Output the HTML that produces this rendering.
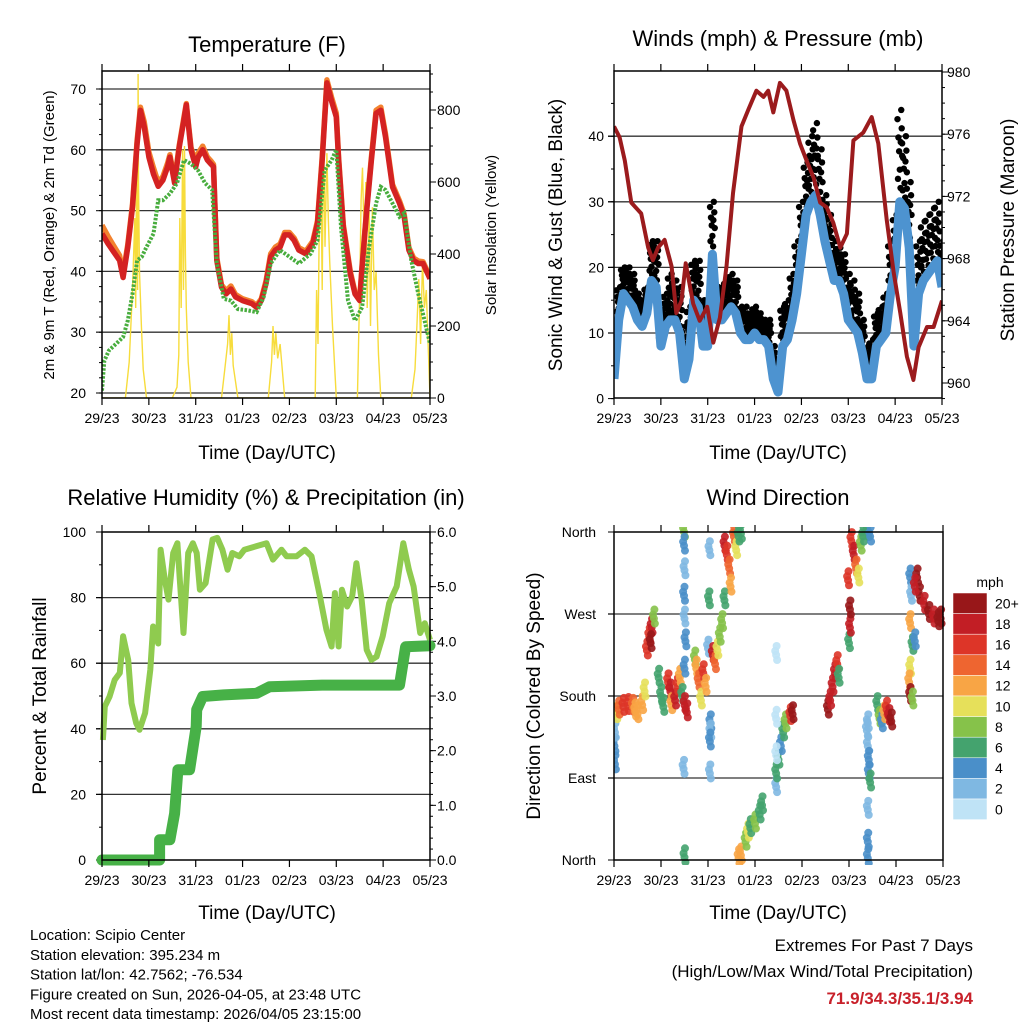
<!DOCTYPE html>
<html><head><meta charset="utf-8"><style>
body{margin:0;background:#fff}
svg text{font-family:"Liberation Sans",Arial,sans-serif;fill:#000}
</style></head><body>
<svg id="c" width="1024" height="1024" viewBox="0 0 1024 1024" xmlns="http://www.w3.org/2000/svg"></svg>
<script>
// ---- Temperature panel data (days since 29/23) ----
const tempDays=[0,0.125,0.25,0.375,0.45,0.55,0.65,0.75,0.82,0.9,1.0,1.1,1.2,1.3,1.4,1.45,1.55,1.65,1.75,1.8,1.9,2.0,2.05,2.15,2.25,2.32,2.38,2.45,2.55,2.65,2.75,2.85,3.0,3.2,3.3,3.4,3.5,3.6,3.7,3.8,3.9,4.0,4.1,4.2,4.35,4.5,4.6,4.7,4.8,4.9,5.0,5.05,5.15,5.3,5.4,5.5,5.55,5.65,5.75,5.85,5.95,6.05,6.2,6.35,6.45,6.55,6.65,6.75,6.85,7.0];
const temp2m=[46.2,44.6,43.2,41.8,39,44,50.6,61,66.5,63.8,58.8,56,54,55,57.2,58.8,54.5,60.5,65,67.4,60,57.2,58.8,60,58.3,57.7,57.2,41.8,37.4,36.3,37.1,35.8,35.2,34.7,34.1,35.2,38,42.4,43.5,44,46,46,45.1,43.5,42.9,44.6,47.9,58.3,71,68,65.4,58.3,47.3,39.6,36.3,35.2,40.7,50,58.3,66,66.5,62.1,53.9,51.2,49,43.5,41.8,41.3,41.3,38.8];
const temp9m=[47.6,45.8,44.2,42.6,39.6,44.4,51,61.5,67,64.6,59.6,57,54.6,55.6,57.8,59.2,55,60.8,65.4,67.6,60.4,57.8,59.4,60.6,58.8,58.2,57.6,42.2,37.8,36.8,37.6,36.2,35.5,35,34.4,35.5,38.4,42.9,44,44.5,46.4,46.4,45.5,43.9,43.3,45,48.3,58.8,71.5,68.6,66,58.8,47.7,40,36.6,35.4,41,50.4,58.8,66.5,67,62.6,54.3,51.6,49.4,43.9,42.2,41.7,41.6,39.1];
const dewDays=[0,0.05,0.15,0.3,0.45,0.55,0.65,0.75,0.85,0.95,1.1,1.2,1.3,1.45,1.6,1.75,1.9,2.05,2.2,2.35,2.45,2.6,2.75,2.9,3.1,3.3,3.45,3.6,3.8,4.0,4.2,4.45,4.6,4.75,4.9,5.0,5.1,5.25,5.4,5.55,5.7,5.85,5.95,6.05,6.2,6.35,6.45,6.6,6.75,6.85,7.0];
const dew2m=[20.4,25.3,27,28.1,29.2,31.9,36.3,41.8,42.4,44,46.2,51.7,51.7,52.8,54.5,58.3,57.7,56.6,54.5,53.4,41.3,35.5,35.2,33.8,33.6,33.3,35.8,41.3,43.5,42.4,41.3,42.9,45.1,56.6,58.3,60,47.3,35.2,31.9,34.1,44,51.2,53.9,53.4,51.2,49,49.6,41.8,36.3,33,28.1];
const solarDays=[0,0.5,0.58,0.65,0.7,0.72,0.74,0.76,0.77,0.78,0.8,0.84,0.88,0.95,1.5,1.6,1.64,1.66,1.69,1.72,1.74,1.76,1.78,1.8,1.84,1.9,2.55,2.62,2.68,2.71,2.74,2.77,2.8,2.9,3.55,3.62,3.65,3.68,3.71,3.75,3.8,3.9,4.55,4.58,4.61,4.64,4.67,4.7,4.73,4.76,4.8,4.83,4.86,4.92,5.0,5.45,5.5,5.53,5.56,5.6,5.63,5.66,5.7,5.73,5.77,5.81,5.85,5.9,5.95,6.6,6.68,6.72,6.76,6.8,6.84,6.88,6.92,6.96,7.0];
const solarVals=[0,0,100,300,500,250,700,300,900,600,350,200,80,0,0,30,120,500,250,690,300,700,400,250,100,0,0,80,150,230,120,180,90,0,0,100,200,120,180,110,150,0,0,300,150,520,650,300,760,420,680,500,380,200,0,0,300,550,640,400,600,250,520,200,530,300,350,120,0,0,80,200,330,150,380,250,300,150,0];
const tempTicks=[20,30,40,50,60,70];
const solarTicks=[0,200,400,600,800];
const dayLabels=["29/23","30/23","31/23","01/23","02/23","03/23","04/23","05/23"];
// ---- Wind panel data ----
const windDays=[0,0.1,0.2,0.3,0.4,0.5,0.6,0.7,0.8,0.9,1.0,1.1,1.2,1.3,1.4,1.5,1.6,1.7,1.8,1.9,2.0,2.1,2.2,2.3,2.4,2.5,2.6,2.7,2.8,2.9,3.0,3.1,3.2,3.3,3.4,3.5,3.6,3.7,3.8,3.9,4.0,4.1,4.2,4.3,4.4,4.5,4.6,4.7,4.8,4.9,5.0,5.1,5.2,5.3,5.4,5.5,5.6,5.7,5.8,5.9,6.0,6.1,6.2,6.3,6.4,6.5,6.6,6.7,6.8,6.9,7.0];
const windSpeed=[3,12,16,15,14,12,11,13,18,17,8,11,12,12,10,3,6,15,14,8,8,22,12,12,13,14,13,10,9,9,10,9,9,8,3,1,8,9,12,16,22,28,30,31,28,24,21,18,18,16,12,11,10,7,3,3,8,9,10,16,20,30,29,23,8,16,18,19,20,21,17];
const windGust=[8,17,20,20,19,16,15,17,24,24,13,16,19,18,17,11,14,21,21,15,15,30,17,17,18,19,18,14,14,13,14,13,12,12,8,6,14,15,19,24,30,36,40,42,38,31,28,24,23,22,19,18,16,12,8,9,13,14,16,24,28,44,40,33,16,24,27,28,29,30,24];
const presDays=[0,0.12,0.23,0.37,0.58,0.73,0.83,0.94,1.08,1.23,1.33,1.44,1.53,1.69,1.83,1.99,2.12,2.26,2.4,2.54,2.72,2.87,3.04,3.19,3.29,3.4,3.54,3.68,3.83,3.97,4.11,4.26,4.4,4.54,4.68,4.83,4.97,5.11,5.32,5.5,5.64,5.82,5.97,6.11,6.25,6.39,6.5,6.68,6.82,7.0];
const pressure=[976.5,975.8,974.3,971.6,970.9,968.7,967.9,968.7,969.2,967.5,964.5,965.3,967.7,965.1,964,964.9,962.6,964.2,967.5,972.2,976.5,977.6,978.8,978.4,978.8,977.4,979.3,978.8,976.9,975.4,974.3,973.2,971.6,971.3,970.3,968.7,969.6,975.6,976.1,977.1,975.4,970.5,967.1,964.5,961.7,960.2,962.3,963.6,963.6,965.3];
const windTicks=[0,10,20,30,40];
const presTicks=[960,964,968,972,976,980];
// ---- RH / precip ----
const rhDays=[0.02,0.06,0.16,0.27,0.38,0.45,0.56,0.63,0.73,0.8,0.92,1.03,1.09,1.2,1.25,1.34,1.42,1.52,1.61,1.66,1.74,1.84,1.94,2.02,2.09,2.21,2.36,2.46,2.57,2.68,2.78,2.93,3.04,3.51,3.65,3.83,3.94,4.15,4.33,4.47,4.65,4.79,4.9,4.97,5.05,5.12,5.23,5.34,5.43,5.54,5.65,5.75,5.86,5.99,6.13,6.29,6.43,6.55,6.65,6.79,6.89,7.0];
const rhVals=[36.6,46.8,49.8,54.9,57,68.2,61,47.8,41.7,39.7,44.8,58,71.2,66,94.6,85.5,79.4,93.6,96.6,85.5,69.2,93.6,96.6,93.6,82.4,84.4,97.7,98.2,94.6,88.5,93.6,92.6,94.6,96.6,91.6,94.6,92.6,92.6,94.6,92.6,80.4,70.2,65.1,81.4,65.1,82.4,77.3,80.4,90.5,79.4,64.1,61,62,68.2,78.3,83.4,96.6,88.5,83.4,69.2,72.2,67.1];
const precipDays=[0,1.23,1.23,1.45,1.55,1.62,1.62,1.87,2.01,2.02,2.15,2.6,3.3,3.58,4.7,6.35,6.48,7.0];
const precipVals=[0,0,0.37,0.37,0.85,1.65,1.65,1.65,2.44,2.75,2.99,3.02,3.05,3.17,3.2,3.2,3.9,3.92];
const rhTicks=[0,20,40,60,80,100];
const precipTicks=["0.0","1.0","2.0","3.0","4.0","5.0","6.0"];
// ---- Wind direction ----
const dirDays=[0.01,0.02,0.02,0.05,0.1,0.2,0.3,0.4,0.45,0.5,0.6,0.65,0.7,0.75,0.8,0.85,0.78,0.95,1.0,1.05,1.15,1.2,1.22,1.3,1.35,1.4,1.45,1.5,1.55,1.49,1.49,1.5,1.49,1.5,1.52,1.5,1.48,1.5,1.72,1.75,1.8,1.85,1.9,1.95,2.05,2.05,2.04,2.04,2.0,2.02,2.03,2.1,2.15,2.2,2.25,2.3,2.35,2.35,2.4,2.45,2.48,2.55,2.6,2.65,2.7,2.65,2.7,2.8,2.85,2.9,3.0,3.1,3.15,3.45,3.45,3.5,3.55,3.6,3.65,3.75,3.8,3.45,3.45,3.45,4.55,4.6,4.65,4.7,4.75,4.78,5.0,5.02,5.02,5.05,5.1,5.15,5.2,5.25,5.3,4.98,5.4,5.45,5.4,5.38,5.4,5.42,5.42,5.45,5.4,5.4,5.4,5.6,5.65,5.7,5.75,5.8,5.85,5.9,6.3,6.32,6.3,6.35,6.3,6.28,6.3,6.35,6.4,6.45,6.5,6.6,6.7,6.8,6.9,6.95,6.4];
const dirVals=[125,105,140,160,165,168,169,168,163,160,170,185,230,245,255,265,238,200,180,168,195,185,170,175,190,200,180,170,162,360,345,318,290,265,240,210,100,3,220,210,195,175,205,190,150,140,130,95,232,285,340,225,215,230,245,260,285,345,335,320,300,355,340,355,358,2,5,20,30,35,40,50,60,80,95,110,125,140,150,158,160,225,155,115,165,175,190,205,215,200,238,255,275,350,335,320,310,345,355,307,360,355,150,142,125,110,95,85,55,20,2,170,155,150,160,165,157,152,310,290,260,235,210,195,180,175,240,310,290,280,270,265,262,265,300];
const dirSpeed=[4,4,3,10,15,16,17,15,12,12,12,10,16,17,18,8,20,6,7,6,17,18,13,19,16,13,7,18,19,8,4,3,4,3,4,5,3,7,9,12,14,10,17,12,4,3,4,2,3,6,2,19,15,10,9,8,6,18,17,14,12,14,10,7,6,12,13,9,10,7,9,6,7,3,7,6,4,6,9,16,20,1,1,1,20,19,18,18,17,7,6,19,20,16,18,14,10,9,6,17,6,4,2,2,3,4,5,6,2,4,4,6,9,5,13,17,18,20,4,3,12,6,10,13,20,8,5,20,20,18,22,19,20,21,18];
const dirTicks=["North","East","South","West","North"];
const speedBins=["0","2","4","6","8","10","12","14","16","18","20+"];
const speedColors=["#bfe3f6","#7fb8e2","#4a8fc9","#44a36e","#86c24a","#e6e05a","#f8a545","#ee6530","#dd3528","#c21e25","#981719"];

const S=document.getElementById('c');const NS="http://www.w3.org/2000/svg";
function mk(t,a,p){const e=document.createElementNS(NS,t);for(const k in a)e.setAttribute(k,a[k]);(p||S).appendChild(e);return e;}
function txt(x,y,s,size,anchor,extra){const e=mk('text',Object.assign({x:x,y:y,'font-size':size,'text-anchor':anchor||'middle'},extra||{}));e.textContent=s;return e;}
function pts(xs,ys,fx,fy){return xs.map((d,i)=>fx(d).toFixed(1)+','+fy(ys[i]).toFixed(1)).join(' ');}
function frame(x0,y0,x1,y1,name){
  const g=mk('g',{});
  
  
  for(let i=0;i<=7;i++){const x=x0+i*(x1-x0)/7;
    mk('line',{x1:x,y1:y1,x2:x,y2:y1+7,stroke:'#000','stroke-width':1.2},g);
    mk('line',{x1:x,y1:y0,x2:x,y2:y0-7,stroke:'#000','stroke-width':1.2},g);
    const t=txt(x,y1+25,dayLabels[i],14,'middle');
    
    
  }
  mk('rect',{x:x0,y:y0,width:x1-x0,height:y1-y0,fill:'none',stroke:'#000','stroke-width':1.5},g);
  return g;
}
function hgrid(x0,x1,y){mk('line',{x1:x0-6,y1:y,x2:x1,y2:y,stroke:'#333','stroke-width':1.3});}
function clip(id,x0,y0,x1,y1){const d=mk('clipPath',{id:id});mk('rect',{x:x0,y:y0,width:x1-x0,height:y1-y0},d);}

// ===== Panel 1: Temperature =====
(function(){
 const x0=102,x1=430,y0=71,y1=398;
 const fx=d=>x0+d*(x1-x0)/7, fy=v=>393-(v-20)*6.08, fs=v=>398-v*0.36;
 clip('cp1',x0,y0,x1,y1);
 txt(267,52,'Temperature (F)',22);
 tempTicks.forEach(v=>{hgrid(x0,x1,fy(v));const t=txt(86,fy(v)+5,String(v),14,'end');});
 for(let v=20;v<=72;v+=2.5){mk('line',{x1:x0-3,y1:fy(v),x2:x0,y2:fy(v),stroke:'#000'});}
 solarTicks.forEach(v=>{mk('line',{x1:x1,y1:fs(v),x2:x1+6,y2:fs(v),stroke:'#000'});txt(437,fs(v)+5,String(v),14,'start');});
 for(let v=0;v<=900;v+=50){mk('line',{x1:x1,y1:fs(v),x2:x1+3,y2:fs(v),stroke:'#000'});}
 const g=mk('g',{'clip-path':'url(#cp1)'});
 const sl=mk('polyline',{points:pts(solarDays,solarVals,fx,fs),fill:'none',stroke:'#f7dc3c','stroke-width':1.4},g);
 
 const o=mk('polyline',{points:pts(tempDays,temp9m,fx,fy),fill:'none',stroke:'#f3822f','stroke-width':5.5,'stroke-linejoin':'round'},g);
 
 const r=mk('polyline',{points:pts(tempDays,temp2m,fx,fy),fill:'none',stroke:'#d42222','stroke-width':5.5,'stroke-linejoin':'round'},g);
 
 const dg=mk('polyline',{points:pts(dewDays,dew2m,fx,fy),fill:'none',stroke:'#48ad3e','stroke-width':4,'stroke-dasharray':'2.5 1.5'},g);
 
 frame(x0,y0,x1,y1,'temperature-axes');
 txt(267,459,'Time (Day/UTC)',19);
 txt(0,0,'2m & 9m T (Red, Orange) & 2m Td (Green)',15,'middle',{transform:'translate(54,235) rotate(-90)'});
 txt(0,0,'Solar Insolation (Yellow)',15,'middle',{transform:'translate(496,235) rotate(-90)'});
})();

// ===== Panel 2: Winds =====
(function(){
 const x0=614,x1=942,y0=71,y1=398;
 const fx=d=>x0+d*(x1-x0)/7, fy=v=>398.6-v*6.56, fp=v=>383-(v-960)*15.55;
 clip('cp2',x0,y0,x1,y1);
 txt(778,46,'Winds (mph) & Pressure (mb)',22);
 windTicks.forEach(v=>{if(v>0)hgrid(x0,x1,fy(v));mk('line',{x1:x0-6,y1:fy(v),x2:x0,y2:fy(v),stroke:'#000'});txt(604,fy(v)+5,String(v),14,'end');});
 for(let v=0;v<=48;v+=5){mk('line',{x1:x0-3,y1:fy(v),x2:x0,y2:fy(v),stroke:'#000'});}
 presTicks.forEach(v=>{mk('line',{x1:x1,y1:fp(v),x2:x1+6,y2:fp(v),stroke:'#000'});txt(947,fp(v)+5,String(v),14,'start');});
 for(let v=959;v<=980;v++){mk('line',{x1:x1,y1:fp(v),x2:x1+3,y2:fp(v),stroke:'#000'});}
 const g=mk('g',{'clip-path':'url(#cp2)'});
 windDays.forEach((d,i)=>{
  const lo=windSpeed[i],hi=windGust[i];
  [[0,0.35],[0.03,1],[-0.03,0.7],[0.05,0.5],[-0.05,0.9],[0.015,0.15],[-0.015,0.55],[0.04,0.8],[-0.04,0.25],[0.02,0.65]].forEach(p=>{
   const c=mk('circle',{cx:fx(d+p[0]),cy:fy(lo+(hi-lo)*p[1]),r:3.2,fill:'#000'},g);
   
   
  });
 });
 const bl=mk('polyline',{points:pts(windDays,windSpeed,fx,fy),fill:'none',stroke:'#4d93d0','stroke-width':9,'stroke-linejoin':'round'},g);
 
 const pl=mk('polyline',{points:pts(presDays,pressure,fx,fp),fill:'none',stroke:'#9b1b1d','stroke-width':4,'stroke-linejoin':'round'},g);
 
 frame(x0,y0,x1,y1,'winds-axes');
 txt(778,459,'Time (Day/UTC)',19);
 txt(0,0,'Sonic Wind & Gust (Blue, Black)',19,'middle',{transform:'translate(562,235) rotate(-90)'});
 txt(0,0,'Station Pressure (Maroon)',19,'middle',{transform:'translate(1014,230) rotate(-90)'});
})();

// ===== Panel 3: RH & Precip =====
(function(){
 const x0=102,x1=430,y0=532,y1=860;
 const fx=d=>x0+d*(x1-x0)/7, fy=v=>860-v*3.28, fr=v=>860-v*54.67;
 clip('cp3',x0-8,y0,x1+8,y1+8);
 txt(266,505,'Relative Humidity (%) & Precipitation (in)',22);
 rhTicks.forEach(v=>{if(v>0&&v<100)hgrid(x0,x1,fy(v));mk('line',{x1:x0-6,y1:fy(v),x2:x0,y2:fy(v),stroke:'#000'});txt(86,fy(v)+5,String(v),14,'end');});
 for(let v=0;v<=100;v+=10){mk('line',{x1:x0-3,y1:fy(v),x2:x0,y2:fy(v),stroke:'#000'});}
 precipTicks.forEach((s,i)=>{mk('line',{x1:x1,y1:fr(i),x2:x1+6,y2:fr(i),stroke:'#000'});txt(437,fr(i)+5,s,14,'start');});
 for(let v=0;v<=6;v+=0.2){mk('line',{x1:x1,y1:fr(v),x2:x1+3,y2:fr(v),stroke:'#000'});}
 const g=mk('g',{'clip-path':'url(#cp3)'});
 const rl=mk('polyline',{points:pts(rhDays,rhVals,fx,fy),fill:'none',stroke:'#8fcb4f','stroke-width':6,'stroke-linejoin':'round'},g);
 
 const pl=mk('polyline',{points:pts(precipDays,precipVals,fx,fr),fill:'none',stroke:'#47b147','stroke-width':11,'stroke-linejoin':'round','stroke-linecap':'round'},g);
 
 frame(x0,y0,x1,y1,'rh-axes');
 txt(267,919,'Time (Day/UTC)',19);
 txt(0,0,'Percent & Total Rainfall',19,'middle',{transform:'translate(46,696) rotate(-90)'});
})();

// ===== Panel 4: Wind Direction =====
(function(){
 const x0=614,x1=943,y0=532,y1=860;
 const fx=d=>x0+d*(x1-x0)/7, fy=v=>860-v*(328/360);
 clip('cp4',x0,y0-5,x1+5,y1+5);
 txt(778,505,'Wind Direction',22);
 dirTicks.forEach((s,i)=>{const y=fy(i*90);if(i>0&&i<4)hgrid(x0,x1,y);mk('line',{x1:x0-6,y1:y,x2:x0,y2:y,stroke:'#000'});txt(596,y+5,s,14,'end');});
 const g=mk('g',{'clip-path':'url(#cp4)'});
 dirDays.forEach((d,i)=>{
  const sp=dirSpeed[i];const bin=Math.min(10,Math.floor(sp/2));
  [[-0.02,-4],[0,0],[0.02,5],[0.01,-9]].forEach(o=>{
   const c=mk('circle',{cx:fx(d+o[0]),cy:fy(dirVals[i])+o[1],r:4,fill:speedColors[bin],'fill-opacity':0.9},g);
   
   
  });
 });
 frame(x0,y0,x1,y1,'direction-axes');
 txt(778,919,'Time (Day/UTC)',19);
 txt(0,0,'Direction (Colored By Speed)',19,'middle',{transform:'translate(540,696) rotate(-90)'});
 txt(990,587,'mph',14,'middle');
 const bh=20.6;
 for(let i=0;i<11;i++){const idx=10-i;const y=593+i*bh;
  const r=mk('rect',{x:953,y:y,width:34,height:bh,fill:speedColors[idx],stroke:'#fff','stroke-width':0.5});
  
  txt(995,y+bh/2+5,speedBins[idx],14,'start');
 }
})();

// footer
const foot=["Location: Scipio Center","Station elevation: 395.234 m","Station lat/lon: 42.7562; -76.534","Figure created on Sun, 2026-04-05, at 23:48 UTC","Most recent data timestamp: 2026/04/05 23:15:00"];
foot.forEach((s,i)=>{const t=txt(30,940+i*19.8,s,15,'start');});
txt(973,951,'Extremes For Past 7 Days',17,'end');
txt(973,977,'(High/Low/Max Wind/Total Precipitation)',17,'end');
const ev=txt(973,1004,'71.9/34.3/35.1/3.94',17,'end',{'font-weight':'bold'});ev.style.fill='#c8202a';

</script>
</body></html>
